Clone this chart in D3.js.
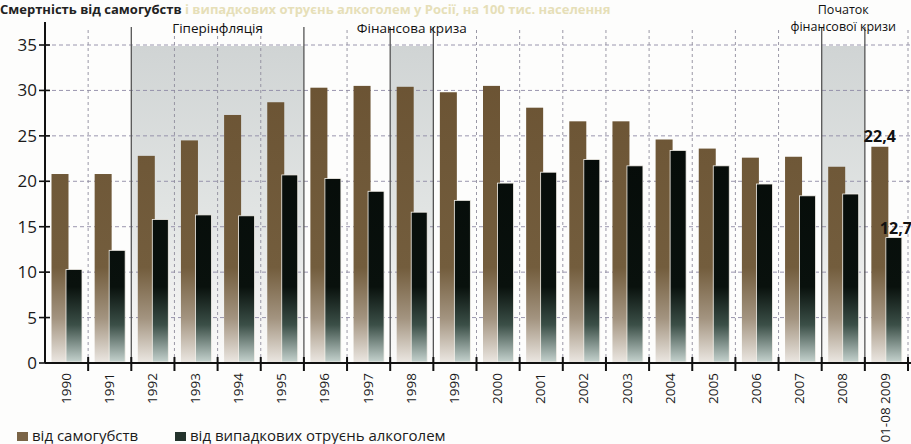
<!DOCTYPE html>
<html>
<head>
<meta charset="utf-8">
<script src="https://cdn.jsdelivr.net/npm/d3@7"></script>
<style>
  body { margin: 0; background: #fdfdfc; }
  svg { display: block; font-family: "Open Sans", sans-serif; }
</style>
</head>
<body>
<div id="chart"></div>
<script>
// data
var years = ["1990", "1991", "1992", "1993", "1994", "1995", "1996", "1997", "1998", "1999",
  "2000", "2001", "2002", "2003", "2004", "2005", "2006", "2007", "2008", "01-08 2009"];
var suicide = [20.8, 20.8, 22.8, 24.5, 27.3, 28.7, 30.3, 30.5, 30.4, 29.8,
  30.5, 28.1, 26.6, 26.6, 24.6, 23.6, 22.6, 22.7, 21.6, 23.8];
var alcohol = [10.3, 12.4, 15.8, 16.3, 16.2, 20.7, 20.3, 18.9, 16.6, 17.9,
  19.8, 21.0, 22.4, 21.7, 23.4, 21.7, 19.7, 18.4, 18.6, 13.8];
var yTicks = [0, 5, 10, 15, 20, 25, 30, 35];
var periods = [
  { from: "1992", to: "1995", label: ["Гіперінфляція"] },
  { from: "1998", to: "1998", label: ["Фінансова криза"] },
  { from: "2008", to: "2008", label: ["Початок", "фінансової кризи"] }
];
var lastLabels = ["22,4", "12,7"];
var legendItems = ["від самогубств", "від випадкових отруєнь алкоголем"];

var width = 911, height = 444;

var svg = d3.select("#chart").append("svg")
  .attr("width", width)
  .attr("height", height);

var x = d3.scaleBand().domain(years).range([45, 908]);
var y = d3.scaleLinear().domain([0, 35]).range([363, 45]);
var bw = x.bandwidth();

var defs = svg.append("defs");
function grad(id, stops) {
  var g = defs.append("linearGradient").attr("id", id)
    .attr("gradientUnits", "userSpaceOnUse")
    .attr("x1", 0).attr("x2", 0).attr("y1", y(35)).attr("y2", y(0));
  stops.forEach(function (s) {
    g.append("stop").attr("offset", s[0]).attr("stop-color", s[1]);
  });
}
grad("gBrown", [[0, "#6a5232"], [0.7, "#735d3d"], [0.86, "#a39480"], [1, "#ece8e3"]]);
grad("gBlack", [[0, "#040806"], [0.76, "#09110d"], [0.88, "#3b4f47"], [1, "#c8d5d1"]]);
grad("gShade", [[0, "#d0d4d4"], [0.55, "#e2e5e4"], [0.85, "#f3f3f2"], [1, "#fbfbfa"]]);

// title (half cut by the page edge in the original scan)
svg.append("text")
  .attr("x", 0).attr("y", 14)
  .style("font-size", "13px").style("font-weight", "bold")
  .call(function (t) {
    t.append("tspan").attr("fill", "#222").text("Смертність від самогубств ");
    t.append("tspan").attr("fill", "#e6dfb8").text("і випадкових отруєнь алкоголем у Росії, на 100 тис. населення");
  });

// shaded periods
svg.selectAll("rect.shade").data(periods).enter().append("rect")
  .attr("class", "shade")
  .attr("x", function (d) { return x(d.from); })
  .attr("width", function (d) { return x(d.to) + bw - x(d.from); })
  .attr("y", y(35) + 1)
  .attr("height", y(0) - y(35) - 1)
  .attr("fill", "url(#gShade)");

// grid
svg.selectAll("line.hgrid").data(yTicks.slice(1)).enter().append("line")
  .attr("x1", 45).attr("x2", width)
  .attr("y1", function (d) { return y(d); })
  .attr("y2", function (d) { return y(d); })
  .attr("stroke", "#8e8aa6").attr("stroke-width", 0.9)
  .attr("stroke-dasharray", "4,3");

var bounds = years.slice(1).map(function (d) { return x(d); }).concat([x.range()[1]]);
var solid = [];
periods.forEach(function (p) { solid.push(x(p.from), x(p.to) + bw); });
function isSolid(d) { return solid.some(function (s) { return Math.abs(s - d) < 1; }); }

svg.selectAll("line.vgrid").data(bounds).enter().append("line")
  .attr("x1", function (d) { return d; })
  .attr("x2", function (d) { return d; })
  .attr("y1", function (d) { return isSolid(d) ? 27 : 30; }).attr("y2", y(0))
  .attr("stroke", function (d) { return isSolid(d) ? "#555" : "#8f8c9c"; })
  .attr("stroke-width", function (d) { return isSolid(d) ? 1.3 : 0.9; })
  .attr("stroke-dasharray", function (d) { return isSolid(d) ? null : "3,3"; });

// bars
svg.selectAll("rect.suicide").data(suicide).enter().append("rect")
  .attr("x", function (d, i) { return x(years[i]) + 6.5; })
  .attr("width", 17)
  .attr("y", function (d) { return y(d); })
  .attr("height", function (d) { return y(0) - y(d) - 1; })
  .attr("fill", "url(#gBrown)");

svg.selectAll("rect.alcohol").data(alcohol).enter().append("rect")
  .attr("x", function (d, i) { return x(years[i]) + 21; })
  .attr("width", 16)
  .attr("y", function (d) { return y(d); })
  .attr("height", function (d) { return y(0) - y(d) - 1; })
  .attr("fill", "url(#gBlack)")
  .attr("stroke", "#f4f1ea").attr("stroke-width", 0.8);

// period labels
periods.forEach(function (p) {
  var cx = (x(p.from) + x(p.to) + bw) / 2;
  var n = p.label.length;
  p.label.forEach(function (l, k) {
    svg.append("text")
      .attr("x", cx)
      .attr("y", n > 1 ? 14 + k * 17 : 33)
      .attr("text-anchor", "middle")
      .style("font-size", n > 1 ? "12.5px" : "13.5px")
      .attr("fill", "#111")
      .text(l);
  });
});

// axes
svg.append("line")
  .attr("x1", 45).attr("x2", 45).attr("y1", 22).attr("y2", y(0))
  .attr("stroke", "#111").attr("stroke-width", 2);
svg.append("line")
  .attr("x1", 45).attr("x2", width).attr("y1", y(0)).attr("y2", y(0))
  .attr("stroke", "#111").attr("stroke-width", 2.2);

svg.selectAll("line.ytick").data(yTicks).enter().append("line")
  .attr("x1", 39).attr("x2", 50)
  .attr("y1", function (d) { return y(d); })
  .attr("y2", function (d) { return y(d); })
  .attr("stroke", "#111").attr("stroke-width", 1.6);

svg.selectAll("text.ylab").data(yTicks).enter().append("text")
  .attr("x", 37)
  .attr("y", function (d) { return y(d) + 6; })
  .attr("text-anchor", "end")
  .style("font-size", "17px")
  .attr("fill", "#1a1a1a")
  .text(function (d) { return d; });

svg.selectAll("line.xtick").data(bounds).enter().append("line")
  .attr("x1", function (d) { return d; })
  .attr("x2", function (d) { return d; })
  .attr("y1", y(0) - 6).attr("y2", y(0) + 8)
  .attr("stroke", "#111").attr("stroke-width", 2);

svg.selectAll("text.xlab").data(years).enter().append("text")
  .attr("transform", function (d) {
    return "translate(" + (x(d) + bw / 2 + 4) + "," + (y(0) + 10) + ") rotate(-90)";
  })
  .attr("text-anchor", "end")
  .style("font-size", "13.5px")
  .attr("fill", "#1a1a1a")
  .text(function (d) { return d; });

// labels over the last bars
var li = years.length - 1;
svg.append("text")
  .attr("x", x(years[li]) + 15).attr("y", y(suicide[li]) - 5)
  .attr("text-anchor", "middle")
  .style("font-size", "16px").style("font-weight", "bold")
  .attr("fill", "#111")
  .text(lastLabels[0]);
svg.append("text")
  .attr("x", x(years[li]) + 31).attr("y", y(alcohol[li]) - 4)
  .attr("text-anchor", "middle")
  .style("font-size", "16px").style("font-weight", "bold")
  .attr("fill", "#111")
  .text(lastLabels[1]);

// legend
var legendX = [17, 175];
var legendFill = ["#7a6446", "#24332c"];
legendItems.forEach(function (l, i) {
  svg.append("rect")
    .attr("x", legendX[i]).attr("y", 432)
    .attr("width", 11).attr("height", 9)
    .attr("fill", legendFill[i]);
  svg.append("text")
    .attr("x", legendX[i] + 15).attr("y", 441)
    .style("font-size", "15px")
    .attr("fill", "#1a1a1a")
    .text(l);
});
</script>
</body>
</html>
